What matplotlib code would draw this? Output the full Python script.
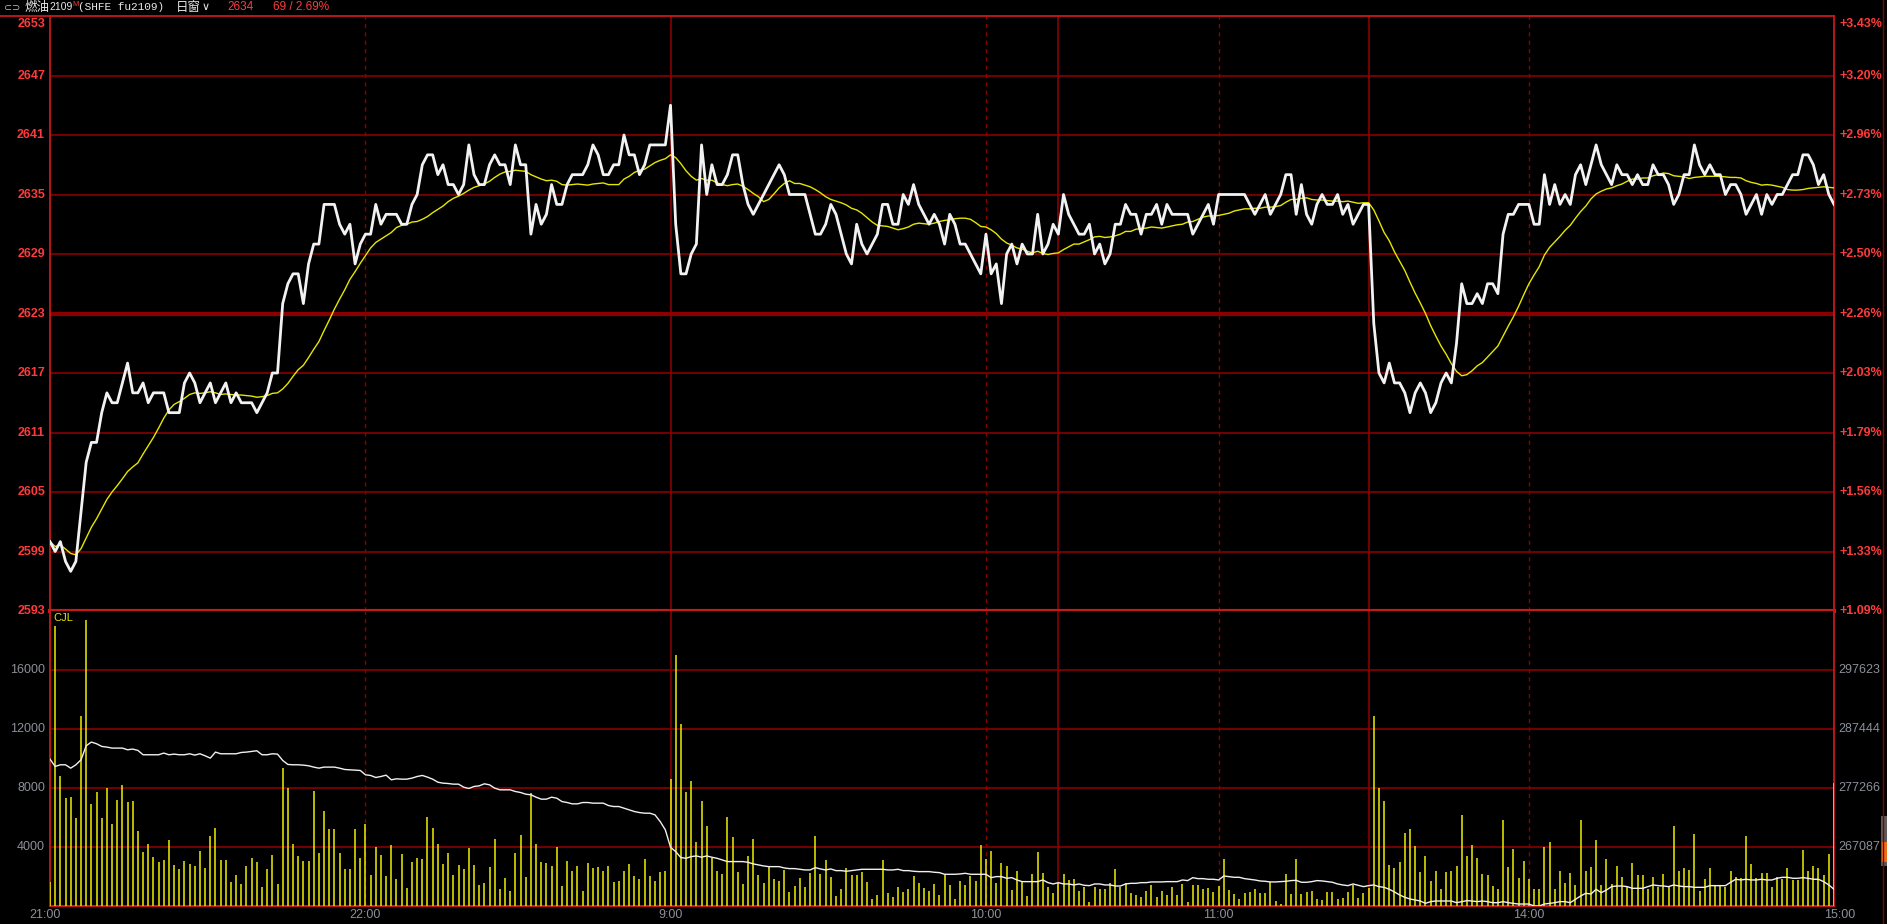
import matplotlib
matplotlib.use('Agg')
import matplotlib.pyplot as plt
from matplotlib.transforms import ScaledTranslation
from matplotlib.lines import Line2D
from matplotlib.patches import Rectangle
import numpy as np
import pandas as pd

# ---- data (one value per minute, 21:00 -> 15:00) ----
price = [
    2600, 2599, 2600, 2598, 2597, 2598, 2603, 2608, 2610, 2610, 2613, 2615, 2614, 2614, 2616, 2618, 2615, 2615, 2616, 2614,
    2615, 2615, 2615, 2613, 2613, 2613, 2616, 2617, 2616, 2614, 2615, 2616, 2614, 2615, 2616, 2614, 2615, 2614, 2614, 2614,
    2613, 2614, 2615, 2617, 2617, 2624, 2626, 2627, 2627, 2624, 2628, 2630, 2630, 2634, 2634, 2634, 2632, 2631, 2632, 2628,
    2630, 2631, 2631, 2634, 2632, 2633, 2633, 2633, 2632, 2632, 2634, 2635, 2638, 2639, 2639, 2637, 2638, 2636, 2636, 2635,
    2636, 2640, 2637, 2636, 2636, 2638, 2639, 2638, 2638, 2636, 2640, 2638, 2638, 2631, 2634, 2632, 2633, 2636, 2634, 2634,
    2636, 2637, 2637, 2637, 2638, 2640, 2639, 2637, 2637, 2638, 2638, 2641, 2639, 2639, 2637, 2638, 2640, 2640, 2640, 2640,
    2644, 2632, 2627, 2627, 2629, 2630, 2640, 2635, 2638, 2636, 2636, 2637, 2639, 2639, 2636, 2634, 2633, 2634, 2635, 2636,
    2637, 2638, 2637, 2635, 2635, 2635, 2635, 2633, 2631, 2631, 2632, 2634, 2633, 2631, 2629, 2628, 2632, 2630, 2629, 2630,
    2631, 2634, 2634, 2632, 2632, 2635, 2634, 2636, 2634, 2633, 2632, 2633, 2632, 2630, 2633, 2632, 2630, 2630, 2629, 2628,
    2627, 2631, 2627, 2628, 2624, 2629, 2630, 2628, 2630, 2629, 2629, 2633, 2629, 2630, 2632, 2631, 2635, 2633, 2632, 2631,
    2631, 2632, 2629, 2630, 2628, 2629, 2632, 2632, 2634, 2633, 2633, 2631, 2633, 2633, 2634, 2632, 2634, 2633, 2633, 2633,
    2633, 2631, 2632, 2633, 2634, 2632, 2635, 2635, 2635, 2635, 2635, 2635, 2634, 2633, 2634, 2635, 2633, 2634, 2635, 2637,
    2637, 2633, 2636, 2633, 2632, 2634, 2635, 2634, 2634, 2635, 2633, 2634, 2632, 2633, 2634, 2634, 2622, 2617, 2616, 2618,
    2616, 2616, 2615, 2613, 2615, 2616, 2615, 2613, 2614, 2616, 2617, 2616, 2620, 2626, 2624, 2624, 2625, 2624, 2626, 2626,
    2625, 2631, 2633, 2633, 2634, 2634, 2634, 2632, 2632, 2637, 2634, 2636, 2634, 2635, 2634, 2637, 2638, 2636, 2638, 2640,
    2638, 2637, 2636, 2638, 2637, 2637, 2636, 2637, 2636, 2636, 2638, 2637, 2637, 2636, 2634, 2635, 2637, 2637, 2640, 2638,
    2637, 2638, 2637, 2637, 2635, 2636, 2636, 2635, 2633, 2634, 2635, 2633, 2635, 2634, 2635, 2635, 2636, 2637, 2637, 2639,
    2639, 2638, 2636, 2637, 2635, 2634,
]

volume = [
    1650, 19000, 8830, 7300, 7380, 5950, 12850, 19400, 6920, 7700, 5950, 8000, 5570, 7200, 8200, 7040, 7130, 5090, 3640, 4200,
    3330, 2990, 3120, 4480, 2780, 2510, 3050, 2850, 2740, 3730, 2580, 4750, 5270, 3120, 3120, 1630, 2100, 1490, 2720, 3280,
    2990, 1310, 2510, 3440, 1490, 9370, 8000, 4200, 3390, 3080, 3080, 7810, 3580, 6470, 5230, 5230, 3580, 2490, 2490, 5200,
    3280, 5590, 2100, 4000, 3460, 2040, 4140, 1860, 3530, 1220, 2990, 3260, 3210, 6040, 5320, 4200, 2850, 3580, 2100, 2780,
    2530, 3940, 2780, 1400, 1540, 2670, 4570, 1130, 1920, 1020, 3600, 4820, 1990, 7690, 4200, 2990, 2900, 2740, 4000, 1360,
    3080, 2400, 2720, 1020, 2920, 2600, 2650, 2400, 2720, 1630, 1700, 2380, 2850, 2040, 1860, 3190, 2040, 1700, 2310, 2380,
    8620, 17040, 12360, 7720, 8490, 4340, 7130, 5430, 3280, 2380, 2170, 6040, 4680, 2310, 1520, 3390, 4550, 2100, 1560, 2720,
    1830, 1720, 2470, 950, 1380, 1900, 1290, 2260, 4750, 2170, 3150, 1970, 700, 1150, 2580, 2100, 2100, 2310, 1630, 475,
    770, 3150, 880, 610, 1290, 950, 1180, 2040, 1560, 1240, 1040, 1490, 770, 2170, 1450, 475, 1720, 1450, 2040, 1720,
    4140, 3210, 3760, 1580, 2920, 2720, 1110, 2400, 1630, 700, 2170, 3670, 2240, 1310, 900, 1540, 2170, 1790, 1860, 1040,
    1310, 270, 1310, 1180, 1180, 1580, 2510, 1310, 1580, 880, 750, 630, 1040, 1430, 630, 1040, 750, 1310, 750, 1520,
    270, 1450, 1450, 1180, 1220, 970, 1380, 3210, 1110, 790, 500, 880, 950, 1180, 870, 900, 1600, 320, 120, 2200,
    840, 3210, 810, 950, 1040, 500, 430, 950, 950, 500, 540, 950, 1430, 540, 880, 1200, 12850, 8030, 7150, 2780,
    2600, 2990, 4960, 5230, 4070, 2310, 3390, 1720, 2380, 1180, 2330, 2400, 2720, 6180, 3390, 4140, 3280, 2170, 2100, 1380,
    1180, 5840, 2670, 3890, 1900, 3080, 1860, 1180, 1150, 4030, 4340, 1150, 2400, 1580, 2220, 1430, 5840, 2400, 2670, 4480,
    1430, 3210, 1490, 2740, 1990, 1310, 2940, 2100, 2100, 1180, 1950, 1310, 2170, 1360, 5430, 2400, 2600, 2440, 4890, 1000,
    1860, 2600, 1360, 1360, 1310, 2400, 1990, 1920, 4750, 2850, 1920, 2260, 2260, 1270, 1990, 1810, 2580, 1770, 1770, 3800,
    2380, 2720, 2580, 2080, 3530, 8350,
]

open_interest = [
    282250, 280980, 281270, 281270, 280690, 281270, 282130, 284550, 285190, 284900, 284440, 284320, 284150, 284150, 284150, 283860, 283980, 283750, 283000, 283000,
    283000, 283000, 283290, 283000, 283110, 283000, 283000, 283170, 282940, 283170, 282820, 282420, 283460, 283170, 283170, 283170, 283170, 283400, 283460, 283570,
    283690, 283000, 283000, 283170, 283110, 282020, 281330, 281270, 281270, 281210, 281100, 280870, 280690, 280870, 280870, 280870, 280690, 280460, 280400, 280350,
    280290, 279540, 279430, 279080, 279250, 279480, 278680, 278850, 278790, 278790, 278970, 279250, 279430, 279140, 278790, 278270, 278100, 278040, 277930, 277930,
    277410, 277180, 277530, 277640, 277990, 277810, 277240, 276950, 276950, 276950, 276660, 276490, 276200, 276090, 275680, 275340, 275340, 275680, 275510, 274930,
    274760, 274530, 274530, 274760, 274760, 274650, 274650, 274650, 274240, 274070, 274070, 273780, 273490, 273210, 273030, 272920, 272920, 272630, 271480, 270040,
    267040, 266300, 265260, 265140, 265430, 265550, 265320, 265550, 265320, 265140, 264860, 264570, 264570, 264570, 264570, 264450, 264170, 263990, 263820, 263700,
    263700, 263700, 263470, 263360, 263360, 263240, 263130, 263130, 263530, 263300, 263130, 263300, 263010, 263010, 262900, 263010, 263130, 263240, 263240, 263240,
    263240, 263240, 263130, 263130, 263240, 263010, 263010, 262900, 262840, 262840, 262840, 262730, 262670, 262380, 262380, 262380, 262440, 262550, 262380, 262380,
    262380, 262380, 261800, 261980, 261980, 261690, 261800, 261400, 261110, 261110, 261110, 261110, 261400, 260940, 260710, 260940, 260710, 260710, 260540, 260710,
    260480, 260420, 260710, 260710, 260540, 260540, 260360, 260360, 260710, 260820, 260820, 260940, 260940, 261060, 261060, 261060, 261110, 261110, 261110, 261400,
    261290, 261800, 261630, 261630, 261520, 261520, 261400, 262090, 261980, 261860, 261860, 261630, 261520, 261400, 261230, 261170, 261060, 261060, 261110, 261170,
    261290, 261340, 261000, 261000, 261110, 261290, 261230, 261110, 261000, 260710, 260540, 260420, 260710, 260480, 260250, 260420, 260540, 260250, 260130, 259790,
    259330, 258810, 258410, 258120, 257950, 257770, 257370, 257660, 257770, 257770, 257770, 257770, 257480, 257660, 257830, 257770, 257660, 257770, 257660, 257480,
    257480, 257660, 257480, 257370, 257250, 257250, 257250, 256910, 256910, 257250, 257370, 257480, 257660, 257660, 257480, 258060, 258640, 259100, 258980, 259790,
    259210, 259670, 260250, 260360, 260360, 260250, 259960, 259960, 259960, 260250, 260540, 260420, 260360, 260250, 260540, 260360, 260250, 260250, 260130, 260130,
    260130, 260420, 260420, 260420, 260420, 261000, 261520, 261400, 261520, 261400, 261400, 261520, 261400, 261400, 261690, 261860, 261860, 261690, 261690, 261800,
    261690, 261520, 261520, 261110, 260540, 259790,
]

pre_settle = 2565
last_price = 2634
price_levels = [2593, 2599, 2605, 2611, 2617, 2623, 2629, 2635, 2641, 2647, 2653]
vol_ticks = [4000, 8000, 12000, 16000]
oi_ticks = [267087, 277266, 287444, 297623]

time_labels = ['21:00', '22:00', '9:00', '10:00', '11:00', '14:00', '15:00']
time_pos = [0, 61, 120, 181, 226, 286, 345]
hour_lines = [61, 181, 226, 286]      # dashed
session_lines = [120, 195, 255]      # solid (session breaks)

# ---- style ----
W, H = 1887, 924
BG = 'black'
GRID = '#8a0000'
FRAME = '#c81818'
RED_TXT = '#ff3a3a'
GRAY_TXT = '#8c9098'

fig = plt.figure(figsize=(W / 100, H / 100), dpi=100, facecolor=BG)

def rect(left, top, right, bottom):
    return [left / W, 1 - bottom / H, (right - left) / W, (bottom - top) / H]

ax_p = fig.add_axes(rect(50, 16, 1834, 611))
ax_v = fig.add_axes(rect(50, 611, 1834, 906), sharex=ax_p)
ax_oi = ax_v.twinx()

for ax in (ax_p, ax_v, ax_oi):
    ax.set_facecolor(BG)
    ax.set_xticks([])
    ax.set_yticks([])
    for s in ax.spines.values():
        s.set_visible(False)
ax_oi.patch.set_visible(False)

n = len(price)
x_p = np.arange(n)
ma = pd.Series(price).rolling(18, min_periods=1).mean()

ax_p.set_xlim(0, 345)
ax_p.set_ylim(price_levels[0], price_levels[-1])
ax_v.set_ylim(0, 20000)
step = (oi_ticks[-1] - oi_ticks[0]) / (len(oi_ticks) - 1)
ax_oi.set_ylim(oi_ticks[0] - step, oi_ticks[-1] + step)

# grid: price panel
for p in price_levels[1:-1]:
    ax_p.axhline(p, color=GRID, lw=3.0 if p == 2623 else 1.2, zorder=1)
for v in vol_ticks:
    ax_v.axhline(v, color=GRID, lw=1.2, zorder=1)
for ax in (ax_p, ax_v):
    for t in hour_lines:
        ax.axvline(t, color=GRID, lw=1, ls=(0, (3, 3)), zorder=1)
    for t in session_lines:
        ax.axvline(t, color=GRID, lw=1.2, zorder=1)

# frame
for ax in (ax_p, ax_v):
    for side in ('left', 'right'):
        ax.spines[side].set_visible(True)
        ax.spines[side].set_color(FRAME)
        ax.spines[side].set_linewidth(1.3)
ax_p.spines['top'].set_visible(True)
ax_p.spines['top'].set_color(FRAME)
ax_p.spines['top'].set_linewidth(1.3)
ax_p.spines['bottom'].set_visible(True)
ax_p.spines['bottom'].set_color(FRAME)
ax_p.spines['bottom'].set_linewidth(3)
ax_v.spines['bottom'].set_visible(True)
ax_v.spines['bottom'].set_color(FRAME)
ax_v.spines['bottom'].set_linewidth(1.5)
fig.add_artist(Line2D([0, 50 / W], [1 - 16 / H, 1 - 16 / H], color=FRAME, lw=1.3))
fig.add_artist(Line2D([1883 / W, 1883 / W], [0, 1], color=GRID, lw=1))
fig.add_artist(Rectangle((1881 / W, 1 - 866 / H), 6 / W, 50 / H, color='#5a5a5a', lw=0))
fig.add_artist(Rectangle((1882 / W, 1 - 862 / H), 5 / W, 20 / H, color='#e8701a', lw=0))

# price + average line
ax_p.plot(x_p, ma, color='#e6e600', lw=1, zorder=4)
ax_p.plot(x_p, price, color='#f2f2f2', lw=2.0, zorder=5)

# volume bars + open interest
x_v = np.arange(len(volume))
ax_v.vlines(x_v, 0, volume, color='#eeee00', lw=1.1, zorder=3)
ax_oi.plot(np.arange(len(open_interest)), open_interest, color='#f0f0f0', lw=1, zorder=5)

# ---- labels ----
lab = dict(family=['Liberation Sans', 'DejaVu Sans'], fontsize=9)
px = lambda dx, dy: ScaledTranslation(dx / 100, dy / 100, fig.dpi_scale_trans)

for p in price_levels:
    top = p == price_levels[-1]
    pct = (p - pre_settle) / pre_settle * 100
    kw = dict(va='top' if top else 'center', color=RED_TXT, fontweight='bold', **lab)
    yoff = -2 if top else 0
    ax_p.text(0, p, str(p), ha='right', transform=ax_p.get_yaxis_transform() + px(-5, yoff), **kw)
    ax_p.text(1, p, '+%.2f%%' % pct, ha='left', transform=ax_p.get_yaxis_transform() + px(5, yoff), **kw)

for v in vol_ticks:
    ax_v.text(0, v, str(v), ha='right', va='center', color=GRAY_TXT,
              transform=ax_v.get_yaxis_transform() + px(-5, 0), **lab)
for o in oi_ticks:
    ax_oi.text(1, o, str(o), ha='left', va='center', color=GRAY_TXT,
               transform=ax_oi.get_yaxis_transform() + px(4, 0), **lab)

for i, (t, lbl) in enumerate(zip(time_pos, time_labels)):
    dx = -5 if i == 0 else (6 if i == len(time_pos) - 1 else 0)
    ax_v.text(t, 0, lbl, ha='center', va='center', color=GRAY_TXT,
              transform=ax_v.get_xaxis_transform() + px(dx, -9), **lab)

ax_v.text(0, 1, 'CJL', ha='left', va='top', color='#e6e600', fontsize=8,
          family=['Liberation Sans', 'DejaVu Sans'],
          transform=ax_v.transAxes + px(3, -2))

# ---- header ----
hy = 1 - 7.5 / H
cjk = ['Noto Sans CJK SC', 'DejaVu Sans']
fig.text(4 / W, hy, '⊂⊃', color='#b8b8b8', fontsize=7, va='center', family=['DejaVu Sans'])
fig.text(24 / W, hy, '燃油', color='#e8e8e8', fontsize=9, va='center', family=cjk)
fig.text(49 / W, hy, '2109', color='#e8e8e8', fontsize=7.5, va='center', family=['Liberation Sans'])
fig.text(72 / W, 1 - 5 / H, 'M', color=RED_TXT, fontsize=5.5, va='center', family=['Liberation Sans'])
fig.text(78 / W, hy, '(SHFE fu2109)', color='#e8e8e8', fontsize=8, va='center', family=['Liberation Mono', 'DejaVu Sans Mono'])
fig.text(176 / W, hy, '日窗', color='#e8e8e8', fontsize=9, va='center', family=cjk)
fig.text(202 / W, hy, '∨', color='#e8e8e8', fontsize=8, va='center', family=['DejaVu Sans'])
fig.text(227 / W, hy, str(last_price), color=RED_TXT, fontsize=8.5, va='center', family=['Liberation Sans'])
chg = last_price - pre_settle
fig.text(273 / W, hy, '%d / %.2f%%' % (chg, chg / pre_settle * 100), color=RED_TXT, fontsize=8.5,
         va='center', family=['Liberation Sans'])

fig.savefig('out.png', dpi=100, facecolor=BG)
